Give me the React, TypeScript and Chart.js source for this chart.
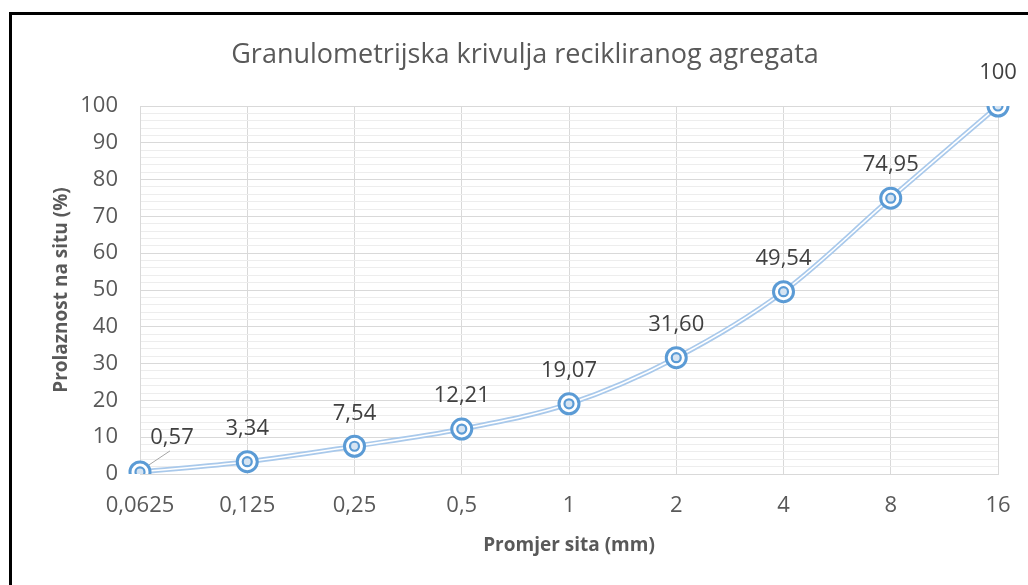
import React, { useEffect, useRef } from "react";
import { Chart, registerables } from "chart.js";

Chart.register(...registerables);

const categories = ["0,0625", "0,125", "0,25", "0,5", "1", "2", "4", "8", "16"];
const passing = [0.57, 3.34, 7.54, 12.21, 19.07, 31.6, 49.54, 74.95, 100];
const valueLabels = ["0,57", "3,34", "7,54", "12,21", "19,07", "31,60", "49,54", "74,95", "100"];

const chartTitle = "Granulometrijska krivulja recikliranog agregata";
const xTitle = "Promjer sita (mm)";
const yTitle = "Prolaznost na situ (%)";

const FONT = "'Open Sans', 'Noto Sans', sans-serif";

const labelPlugin = {
  id: "customLabels",
  afterDatasetsDraw(chart: any) {
    const ctx = chart.ctx;
    const meta = chart.getDatasetMeta(2);
    ctx.save();
    // title
    ctx.fillStyle = "#595959";
    ctx.font = `27px ${FONT}`;
    ctx.textAlign = "center";
    ctx.textBaseline = "middle";
    ctx.fillText(chartTitle, 525, 55);
    // data labels
    ctx.font = `22px ${FONT}`;
    ctx.fillStyle = "#404040";
    meta.data.forEach((pt: any, i: number) => {
      const txt = valueLabels[i];
      if (i === 0) {
        ctx.strokeStyle = "#A6A6A6";
        ctx.lineWidth = 1;
        ctx.beginPath();
        ctx.moveTo(pt.x + 9, pt.y - 7);
        ctx.lineTo(pt.x + 30, pt.y - 21);
        ctx.stroke();
        ctx.fillText(txt, pt.x + 32, pt.y - 34);
      } else {
        ctx.fillText(txt, pt.x, pt.y - 33);
      }
    });
    ctx.restore();
  },
};

export default function App() {
  const ref = useRef<HTMLCanvasElement | null>(null);
  useEffect(() => {
    if (!ref.current) return;
    const chart = new Chart(ref.current, {
      type: "line",
      data: {
        labels: categories,
        datasets: [
          {
            data: passing,
            borderColor: "#A9C9EB",
            borderWidth: 5,
            pointRadius: 0,
            cubicInterpolationMode: "monotone",
            order: 4,
          },
          {
            data: passing,
            borderColor: "#FFFFFF",
            borderWidth: 1.6,
            pointRadius: 0,
            cubicInterpolationMode: "monotone",
            order: 3,
          },
          {
            data: passing,
            showLine: false,
            pointRadius: 10,
            pointBorderWidth: 3,
            pointBorderColor: "#5B9BD5",
            pointBackgroundColor: "#FFFFFF",
            order: 2,
          },
          {
            data: passing,
            showLine: false,
            pointRadius: 4.5,
            pointBorderWidth: 2.2,
            pointBorderColor: "#5B9BD5",
            pointBackgroundColor: "#D6E4F2",
            order: 1,
          },
        ],
      },
      options: {
        responsive: false,
        animation: false,
        layout: { padding: { top: 106, right: 30, left: 0, bottom: 0 } },
        plugins: {
          legend: { display: false },
          tooltip: { enabled: false },
          title: { display: false },
        },
        scales: {
          x: {
            offset: false,
            grid: { color: "#D9D9D9", drawTicks: false, lineWidth: 1 },
            border: { color: "#D9D9D9" },
            ticks: { color: "#595959", font: { family: FONT, size: 22 }, padding: 19, autoSkip: false, maxRotation: 0 },
            title: {
              display: true,
              text: xTitle,
              color: "#595959",
              font: { family: FONT, size: 19, weight: "bold" },
              padding: { top: 0, bottom: 28 },
            },
            afterFit(scale: any) {
              scale.height = 111;
              scale.paddingLeft = 0;
              scale.paddingRight = 0;
            },
          },
          y: {
            min: 0,
            max: 100,
            grid: {
              drawTicks: false,
              color: (c: any) => (c.tick && c.tick.value % 10 === 0 ? "#D9D9D9" : "#EDEDED"),
            },
            border: { color: "#D9D9D9" },
            ticks: {
              stepSize: 2,
              autoSkip: false,
              color: "#595959",
              font: { family: FONT, size: 22 },
              padding: 22,
              callback: (v: any) => (Number(v) % 10 === 0 ? String(v) : ""),
            },
            title: {
              display: true,
              text: yTitle,
              color: "#595959",
              font: { family: FONT, size: 19, weight: "bold" },
              padding: { top: 50, bottom: 0 },
            },
            afterFit(scale: any) {
              scale.width = 140;
              scale.paddingTop = 0;
              scale.paddingBottom = 0;
            },
          },
        },
      },
      plugins: [labelPlugin],
    } as any);
    return () => chart.destroy();
  }, []);
  return (
    <div style={{ position: "fixed", left: 0, top: 0, width: 1028, height: 585, background: "#fff" }}>
      <canvas ref={ref} width={1028} height={585} style={{ display: "block" }} />
      <div
        style={{
          position: "absolute",
          left: 9,
          top: 12,
          right: 0,
          bottom: 0,
          borderLeft: "3px solid #000",
          borderTop: "3px solid #000",
          pointerEvents: "none",
        }}
      />
    </div>
  );
}
